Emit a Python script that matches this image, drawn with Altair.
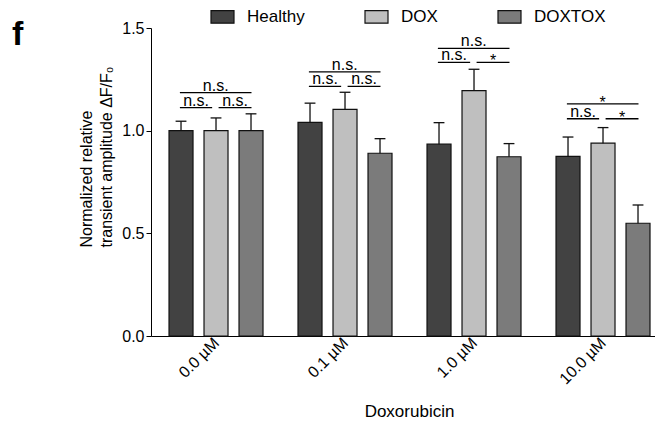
import json
import altair as alt
import pandas as pd

# ---------------- data ----------------
groups = ["0.0 µM", "0.1 µM", "1.0 µM", "10.0 µM"]
series = ["Healthy", "DOX", "DOXTOX"]
colors = ["#424242", "#bfbfbf", "#7b7b7b"]

healthy = [1.00, 1.04, 0.934, 0.875]
dox = [1.00, 1.104, 1.195, 0.939]
doxtox = [1.00, 0.89, 0.873, 0.549]
healthy_err = [0.046, 0.094, 0.105, 0.094]
dox_err = [0.062, 0.083, 0.104, 0.076]
doxtox_err = [0.082, 0.071, 0.064, 0.089]

sig_group = [0, 0, 0, 1, 1, 1, 2, 2, 2, 3, 3, 3]
sig_pair = ["H-D", "D-X", "H-X"] * 4
sig_level = [1.112, 1.112, 1.185, 1.216, 1.216, 1.286,
             1.333, 1.333, 1.401, 1.058, 1.058, 1.130]
sig_label = ["n.s.", "n.s.", "n.s.", "n.s.", "n.s.", "n.s.",
             "n.s.", "*", "n.s.", "n.s.", "*", "*"]

# ---------------- layout constants (in group units) ----------------
STEP = 0.2713   # distance between bars in a group
HALF = 0.093    # half bar width
CAP = 0.042     # half cap width
PAIR_EXT = {"H-D": (-0.28, -0.03), "D-X": (0.02, 0.275), "H-X": (-0.28, 0.275)}

vals = [healthy, dox, doxtox]
errs = [healthy_err, dox_err, doxtox_err]
rows = []
for i, g in enumerate(groups):
    for j, s in enumerate(series):
        rows.append({"group": g, "gi": i, "series": s, "sj": j,
                     "value": vals[j][i], "err": errs[j][i]})
bars_df = pd.DataFrame(rows)

sig_df = pd.DataFrame({"gi": sig_group, "pair": sig_pair,
                       "level": sig_level, "label": sig_label})
sig_df["x0"] = [g + PAIR_EXT[p][0] for g, p in zip(sig_df.gi, sig_df.pair)]
sig_df["x1"] = [g + PAIR_EXT[p][1] for g, p in zip(sig_df.gi, sig_df.pair)]
sig_df["xm"] = (sig_df.x0 + sig_df.x1) / 2

FONT = "Liberation Sans"
xscale = alt.Scale(domain=[-0.504, 3.403], nice=False, zero=False)
yscale = alt.Scale(domain=[0, 1.5], nice=False)

label_expr = json.dumps(groups, ensure_ascii=False) + "[datum.value]"

xaxis = alt.Axis(values=[0, 1, 2, 3], labelExpr=label_expr, ticks=False, grid=False,
                 domainColor="#000", domainWidth=1, labelAngle=315, labelAlign="right",
                 labelBaseline="middle", labelPadding=4, labelFontSize=16,
                 labelColor="#000", labelFlush=False, labelOverlap=False,
                 title="Doxorubicin", titleFontSize=17, titleFontWeight="normal",
                 titleColor="#000", titleX=258, titleY=80, titleBaseline="alphabetic")
yaxis = alt.Axis(values=[0, 0.5, 1.0, 1.5], format=".1f", grid=False, tickSize=5,
                 tickColor="#000", domainColor="#000", labelFontSize=16,
                 labelColor="#000", labelPadding=2,
                 title=["Normalized relative", "transient amplitude ΔF/F₀"],
                 titleFontSize=16, titleFontWeight="normal", titleColor="#000",
                 titleX=-60, titleY=219, titleAngle=270, titleAlign="left",
                 titleBaseline="alphabetic", titleLineHeight=20)

base = alt.Chart(bars_df).transform_calculate(
    xc=f"datum.gi + (datum.sj - 1) * {STEP}",
).transform_calculate(
    x0=f"datum.xc - {HALF}", x1=f"datum.xc + {HALF}",
    c0=f"datum.xc - {CAP}", c1=f"datum.xc + {CAP}",
    top="datum.value + datum.err", zero="0",
)

bars = base.mark_bar(stroke="#111", strokeWidth=1.2).encode(
    x=alt.X("x0:Q", scale=xscale, axis=xaxis),
    x2="x1:Q",
    y=alt.Y("value:Q", scale=yscale, axis=yaxis),
    y2="zero:Q",
    color=alt.Color("series:N", scale=alt.Scale(domain=series, range=colors),
                    legend=alt.Legend(orient="none", legendX=59, legendY=-24,
                                      direction="horizontal", title=None,
                                      symbolType="M-1,-0.55H1V0.55H-1Z", symbolSize=529,
                                      symbolStrokeColor="#111", symbolStrokeWidth=1.2,
                                      symbolOpacity=1, labelFontSize=17, labelColor="#000",
                                      labelOffset=12, columnPadding=57, padding=0)),
)

stems = base.mark_rule(color="#111", strokeWidth=1.3).encode(
    x=alt.X("xc:Q", scale=xscale),
    y=alt.Y("value:Q", scale=yscale),
    y2="top:Q",
)
caps = base.mark_rule(color="#111", strokeWidth=1.3).encode(
    x=alt.X("c0:Q", scale=xscale),
    x2="c1:Q",
    y=alt.Y("top:Q", scale=yscale),
)

sig = alt.Chart(sig_df)
sig_lines = sig.mark_rule(color="#000", strokeWidth=1.3).encode(
    x=alt.X("x0:Q", scale=xscale),
    x2="x1:Q",
    y=alt.Y("level:Q", scale=yscale),
)
sig_ns = sig.transform_filter("datum.label != '*'").mark_text(
    fontSize=16, baseline="alphabetic", dy=-2, color="#000").encode(
    x=alt.X("xm:Q", scale=xscale),
    y=alt.Y("level:Q", scale=yscale),
    text="label:N",
)
sig_star = sig.transform_filter("datum.label == '*'").mark_text(
    fontSize=16, baseline="alphabetic", dy=4, color="#000").encode(
    x=alt.X("xm:Q", scale=xscale),
    y=alt.Y("level:Q", scale=yscale),
    text="label:N",
)

panel = alt.Chart(pd.DataFrame({"t": ["f"]})).mark_text(
    fontSize=34, fontWeight="bold", align="left", baseline="alphabetic", color="#000"
).encode(text="t:N", x=alt.value(-139), y=alt.value(17))

chart = alt.layer(bars, stems, caps, sig_lines, sig_ns, sig_star, panel).properties(
    width=504, height=308,
    autosize=alt.AutoSizeParams(type="none"),
    padding={"left": 143, "top": 20, "right": 0, "bottom": 86},
).configure(font=FONT).configure_view(stroke=None)

chart.save("out.html", embed_options={"renderer": "svg", "actions": False})
